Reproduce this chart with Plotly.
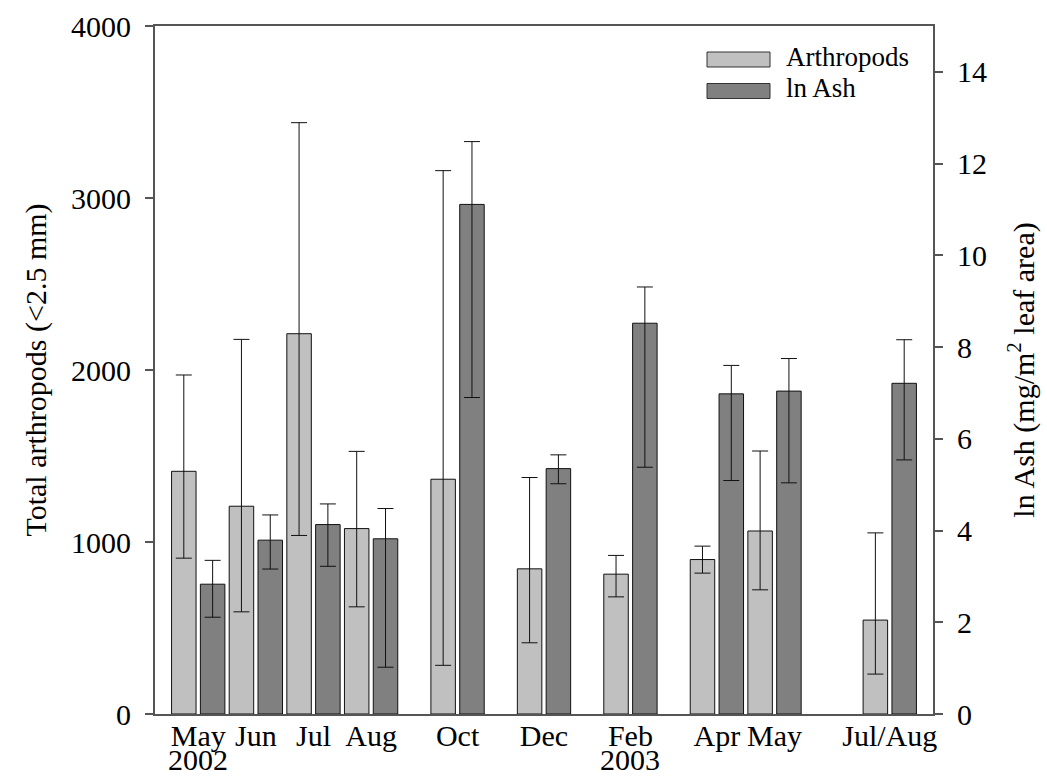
import plotly.graph_objects as go

# Sampling dates (tick labels), year labels and group positions along the x axis
months = ["May", "Jun", "Jul", "Aug", "Oct", "Dec", "Feb", "Apr", "May", "Jul/Aug"]
years = ["2002", "", "", "", "", "", "2003", "", "", ""]
group_pos = [0.5, 2.5, 4.5, 6.5, 9.5, 12.5, 15.5, 18.5, 20.5, 24.5]

# Total arthropods (<2.5 mm), with upper / lower error extents
arthropods = [1411, 1208, 2211, 1078, 1365, 844, 813, 898, 1064, 546]
arth_err_up = [560, 970, 1227, 449, 1794, 531, 109, 78, 465, 507]
arth_err_dn = [505, 614, 1173, 455, 1082, 430, 132, 79, 342, 314]

# ln Ash (mg/m2 leaf area), with upper / lower error extents
ln_ash = [2.83, 3.79, 4.13, 3.82, 11.11, 5.35, 8.52, 6.98, 7.04, 7.21]
ash_err_up = [0.52, 0.55, 0.45, 0.66, 1.37, 0.30, 0.79, 0.62, 0.71, 0.95]
ash_err_dn = [0.72, 0.63, 0.91, 2.80, 4.21, 0.33, 3.14, 1.89, 2.00, 1.67]

FONT = "Liberation Serif"
AXIS_COLOR = "#555555"
LIGHT = "#c0c0c0"
DARK = "#808080"
TICK_SIZE = 30

fig = go.Figure()

fig.add_trace(go.Bar(
    x=group_pos, y=arthropods, name="Arthropods",
    marker=dict(color=LIGHT, line=dict(color="#111111", width=1)),
    error_y=dict(type="data", symmetric=False, array=arth_err_up, arrayminus=arth_err_dn,
                 color="#111111", thickness=1, width=8),
    offsetgroup="a", yaxis="y", showlegend=False,
))
fig.add_trace(go.Bar(
    x=group_pos, y=ln_ash, name="ln Ash",
    marker=dict(color=DARK, line=dict(color="#111111", width=1)),
    error_y=dict(type="data", symmetric=False, array=ash_err_up, arrayminus=ash_err_dn,
                 color="#111111", thickness=1, width=8),
    offsetgroup="b", yaxis="y2", showlegend=False,
))

# Plot-area geometry in pixels, used to place the legend box and year labels
L, R, T, B = 155, 933, 26, 714
W, H = R - L, B - T


def px_x(x):
    return (x - L) / W


def px_y(y):
    return (B - y) / H


shapes = []
annotations = []

# Legend box in the upper right corner
legend_items = [("Arthropods", LIGHT), ("ln Ash", DARK)]
for i, (label, col) in enumerate(legend_items):
    top = 52 + i * 31.5
    shapes.append(dict(type="rect", xref="paper", yref="paper",
                       x0=px_x(707), x1=px_x(770), y0=px_y(top + 15), y1=px_y(top),
                       fillcolor=col, line=dict(color="#333333", width=1)))
    annotations.append(dict(xref="paper", yref="paper", x=px_x(784),
                            y=px_y(top + 4.5), text=label, showarrow=False,
                            xanchor="left", yanchor="middle",
                            font=dict(family=FONT, size=27, color="black")))

# Year labels below the first month of each year
for pos, yr in zip(group_pos, years):
    if yr:
        annotations.append(dict(xref="x", yref="paper", x=pos, y=px_y(760), text=yr,
                                showarrow=False, xanchor="center", yanchor="middle",
                                borderpad=0,
                                font=dict(family=FONT, size=TICK_SIZE, color="black")))

fig.update_layout(
    width=1047, height=779,
    margin=dict(l=L, r=1047 - R, t=T, b=779 - B),
    paper_bgcolor="white", plot_bgcolor="white",
    barmode="group", bargap=0, bargroupgap=0.15,
    font=dict(family=FONT, size=TICK_SIZE, color="black"),
    xaxis=dict(range=[-1, 26], tickvals=group_pos, ticktext=months,
               showline=True, linecolor=AXIS_COLOR, linewidth=2, mirror=True,
               ticks="", showgrid=False, zeroline=False, automargin=False,
               ticklabelstandoff=-6,
               tickfont=dict(family=FONT, size=TICK_SIZE)),
    yaxis=dict(range=[0, 4000], tickvals=[0, 1000, 2000, 3000, 4000],
               showline=True, linecolor=AXIS_COLOR, linewidth=2,
               ticks="outside", ticklen=8, tickcolor=AXIS_COLOR, tickwidth=2,
               ticklabelstandoff=8,
               showgrid=False, zeroline=False, automargin=False,
               tickfont=dict(family=FONT, size=TICK_SIZE),
               title=dict(text="Total arthropods (<2.5 mm)", standoff=16,
                          font=dict(family=FONT, size=30))),
    yaxis2=dict(range=[0, 15], tickvals=[0, 2, 4, 6, 8, 10, 12, 14],
                overlaying="y", side="right",
                showline=True, linecolor=AXIS_COLOR, linewidth=2,
                ticks="outside", ticklen=8, tickcolor=AXIS_COLOR, tickwidth=2,
                ticklabelstandoff=8,
                showgrid=False, zeroline=False, automargin=False,
                tickfont=dict(family=FONT, size=TICK_SIZE),
                title=dict(text="ln Ash (mg/m<sup>2</sup> leaf area)", standoff=27,
                           font=dict(family=FONT, size=30))),
    shapes=shapes,
    annotations=annotations,
)

fig.write_html("out.html")
